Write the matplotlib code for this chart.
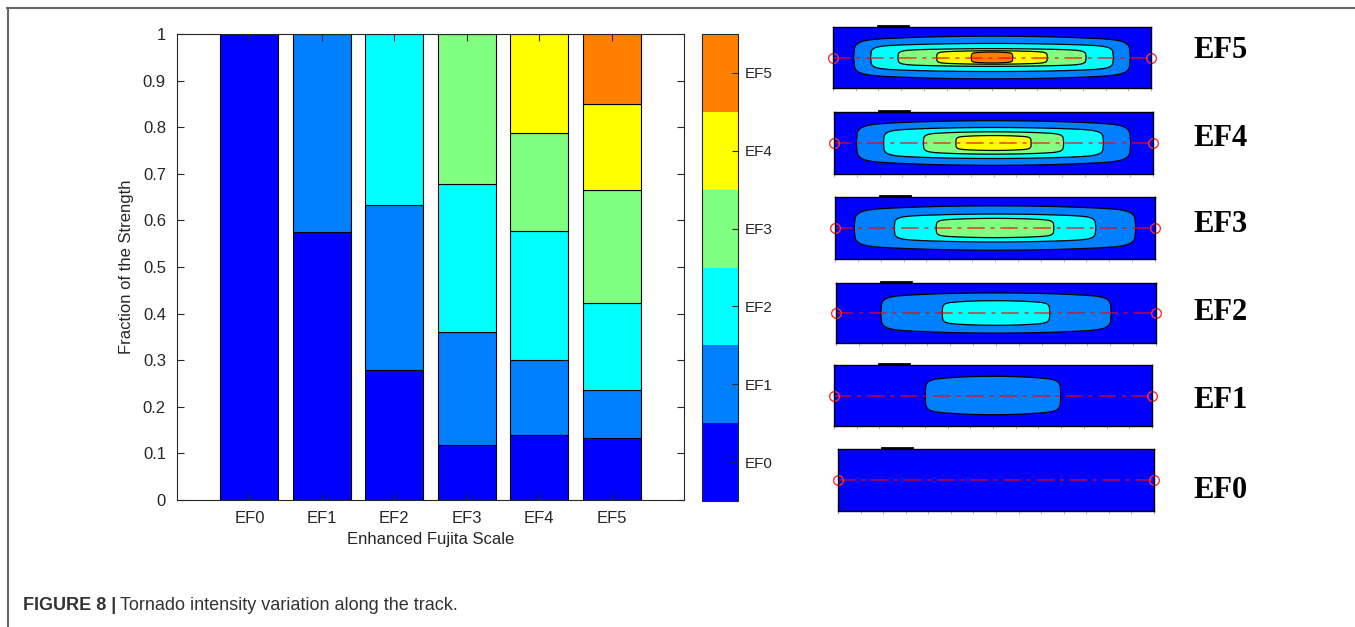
import matplotlib
matplotlib.use("Agg")
import matplotlib.pyplot as plt
import numpy as np
from matplotlib.colors import ListedColormap, BoundaryNorm
from matplotlib.cm import ScalarMappable
from matplotlib.patches import Polygon
from matplotlib.lines import Line2D

# ---- data ----
scales = ["EF0", "EF1", "EF2", "EF3", "EF4", "EF5"]
jet6 = ["#0000ff", "#0080ff", "#00ffff", "#80ff80", "#ffff00", "#ff8000"]

# fraction of each level inside the tornado of a given scale (bottom -> top)
frac_ef0 = [1.0]
frac_ef1 = [0.575, 0.425]
frac_ef2 = [0.280, 0.352, 0.368]
frac_ef3 = [0.117, 0.243, 0.318, 0.322]
frac_ef4 = [0.140, 0.160, 0.277, 0.211, 0.212]
frac_ef5 = [0.132, 0.103, 0.188, 0.242, 0.185, 0.150]
fractions = [frac_ef0, frac_ef1, frac_ef2, frac_ef3, frac_ef4, frac_ef5]

# contour footprints in each track panel: half length (fraction of panel
# width) and half width (fraction of panel half height), level EF1 upward
hw_ef0 = []
hh_ef0 = []
hw_ef1 = [0.213]
hh_ef1 = [0.63]
hw_ef2 = [0.360, 0.168]
hh_ef2 = [0.67, 0.41]
hw_ef3 = [0.440, 0.315, 0.184]
hh_ef3 = [0.715, 0.45, 0.31]
hw_ef4 = [0.430, 0.345, 0.220, 0.118]
hh_ef4 = [0.72, 0.50, 0.36, 0.24]
hw_ef5 = [0.435, 0.382, 0.296, 0.174, 0.065]
hh_ef5 = [0.70, 0.46, 0.29, 0.22, 0.18]
half_len = [hw_ef0, hw_ef1, hw_ef2, hw_ef3, hw_ef4, hw_ef5]
half_wid = [hh_ef0, hh_ef1, hh_ef2, hh_ef3, hh_ef4, hh_ef5]
top_mark = [0.14, 0.235]

W, H = 1355, 627
plt.rcParams['font.family'] = ['Liberation Sans', 'DejaVu Sans']
txt = '#262626'

fig = plt.figure(figsize=(W / 100, H / 100), dpi=100)

def box(l, t, r, b):
    return [l / W, 1 - b / H, (r - l) / W, (b - t) / H]

# ---- stacked bars ----
ax = fig.add_axes(box(177, 34, 684, 500))
xs = np.arange(1, len(scales) + 1)
for i, vals in enumerate(fractions):
    bottom = 0
    for lev, v in enumerate(vals):
        ax.bar(xs[i], v, bottom=bottom, width=0.8, color=jet6[lev],
               edgecolor='black', linewidth=0.8)
        bottom += v
ax.set_xlim(0, 7)
ax.set_ylim(0, 1)
ax.set_xticks(xs)
ax.set_xticklabels(scales)
ax.set_yticks(np.linspace(0, 1, 11))
ax.set_yticklabels(['0', '0.1', '0.2', '0.3', '0.4', '0.5', '0.6', '0.7', '0.8', '0.9', '1'])
ax.tick_params(direction='in', top=True, right=True, length=5, width=0.8,
               colors=txt, labelsize=12, pad=8)
for s in ax.spines.values():
    s.set_color(txt)
    s.set_linewidth(0.8)
ax.set_xlabel('Enhanced Fujita Scale', fontsize=12, color=txt, labelpad=4)
ax.set_ylabel('Fraction of the Strength', fontsize=12, color=txt, labelpad=6)

# ---- colour bar ----
cax = fig.add_axes(box(702, 34, 738, 501))
cmap = ListedColormap(jet6)
norm = BoundaryNorm(np.arange(7), cmap.N)
cb = fig.colorbar(ScalarMappable(norm=norm, cmap=cmap), cax=cax)
cb.minorticks_off()
cb.set_ticks(np.arange(6) + 0.5)
cb.set_ticklabels(scales)
cax.tick_params(direction='in', length=4, width=0.8, colors=txt, labelsize=11, pad=5)
cb.outline.set_edgecolor(txt)
cb.outline.set_linewidth(0.8)

# ---- track panels ----
panels = [(838, 449, 1154, 511), (834, 365, 1152, 426), (836, 283, 1156, 343),
          (835, 197, 1155, 259), (834, 112, 1153, 174), (833, 27, 1151, 88)]
label_y = [490, 401, 313, 225, 138, 50]

u = np.linspace(-1, 1, 301)
for k in range(6):
    pax = fig.add_axes(box(*panels[k]))
    pax.set_xlim(0, 1)
    pax.set_ylim(-1, 1)
    pax.set_facecolor(jet6[0])
    for lev, (a, b) in enumerate(zip(half_len[k], half_wid[k])):
        # flat-ended footprint: gently sagging sides, rounded corners
        prof = b * np.sqrt(1 - (0.6 * u) ** 2) * (1 - np.abs(u) ** 18) ** 0.25
        px = np.r_[0.5 + a * u, 0.5 + a * u[::-1]]
        py = np.r_[prof, -prof[::-1]]
        pax.add_patch(Polygon(np.c_[px, py], closed=True, facecolor=jet6[lev + 1],
                              edgecolor='black', linewidth=0.9))
    pax.plot([0, 1], [0, 0], color='red', alpha=0.6, linewidth=1.4,
             linestyle=(0, (9, 3, 2, 3)))
    pax.plot([0, 1], [0, 0], linestyle='none', marker='o', markersize=7,
             markerfacecolor='none', markeredgecolor='#ff3030', markeredgewidth=1,
             clip_on=False)
    pax.plot(top_mark, [1.02, 1.02], color='black', linewidth=2, clip_on=False)
    pax.set_xticks(np.linspace(0, 1, 15))
    pax.set_yticks([])
    pax.tick_params(axis='x', direction='out', length=2, width=0.6, colors='#b0b0b0',
                    labelbottom=False)
    for s in pax.spines.values():
        s.set_color('black')
        s.set_linewidth(1)
    fig.text(1193 / W, 1 - label_y[k] / H, scales[k], family='Liberation Serif',
             weight='bold', fontsize=22, color='black', va='center', ha='left')

# ---- frame and caption ----
fig.add_artist(Line2D([7 / W, 1], [1 - 8 / H, 1 - 8 / H], color='#666666', linewidth=1.5))
fig.add_artist(Line2D([8 / W, 8 / W], [0, 1 - 8 / H], color='#666666', linewidth=1.5))

cap1 = fig.text(23 / W, 1 - 606 / H, 'FIGURE 8 |', weight='bold', fontsize=13,
                color='#333333', va='center', ha='left')
r = fig.canvas.get_renderer()
bb = cap1.get_window_extent(renderer=r)
fig.text(bb.x1 / W + 4 / W, 1 - 606 / H, 'Tornado intensity variation along the track.',
         fontsize=13, color='#333333', va='center', ha='left')

fig.savefig('out.png', dpi=100)
